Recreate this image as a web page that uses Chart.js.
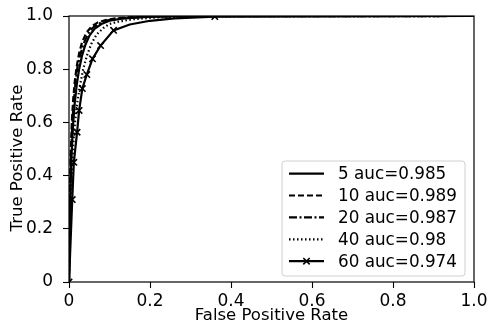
<html><head><meta charset="UTF-8"/>
<title>ROC</title>
<script src="https://cdn.jsdelivr.net/npm/chart.js"></script>
<style>
* { margin: 0; padding: 0; }
body { background: #ffffff; width: 492px; height: 322px; overflow: hidden; }
#wrap { position: relative; width: 492px; height: 322px; }
</style>
</head>
<body>
<div id="wrap"><canvas id="roc" width="492" height="322"></canvas></div>
<script>
// curve labels
const labels = ['5 auc=0.985', '10 auc=0.989', '20 auc=0.987', '40 auc=0.98', '60 auc=0.974'];

// false / true positive rates
const fpr5  = [0, 0.003, 0.006, 0.01, 0.014, 0.019, 0.025, 0.032, 0.04, 0.05, 0.063, 0.08, 0.1, 0.13, 0.18, 0.26, 1];
const tpr5  = [0, 0.3, 0.47, 0.59, 0.67, 0.74, 0.8, 0.85, 0.89, 0.925, 0.952, 0.97, 0.982, 0.99, 0.996, 0.999, 1];
const fpr10 = [0, 0.002, 0.004, 0.007, 0.01, 0.014, 0.019, 0.025, 0.032, 0.042, 0.055, 0.07, 0.09, 0.12, 0.17, 0.25, 1];
const tpr10 = [0, 0.3, 0.48, 0.6, 0.68, 0.75, 0.81, 0.86, 0.9, 0.935, 0.96, 0.975, 0.985, 0.992, 0.997, 1, 1];
const fpr20 = [0, 0.002, 0.005, 0.008, 0.012, 0.016, 0.021, 0.028, 0.036, 0.046, 0.058, 0.074, 0.095, 0.125, 0.175, 0.26, 1];
const tpr20 = [0, 0.3, 0.47, 0.6, 0.68, 0.75, 0.81, 0.855, 0.895, 0.93, 0.955, 0.972, 0.984, 0.991, 0.996, 0.999, 1];
const fpr40 = [0, 0.004, 0.008, 0.013, 0.019, 0.026, 0.035, 0.044, 0.055, 0.068, 0.085, 0.1, 0.125, 0.16, 0.22, 0.3, 1];
const tpr40 = [0, 0.3, 0.45, 0.57, 0.66, 0.73, 0.8, 0.85, 0.895, 0.93, 0.955, 0.97, 0.98, 0.988, 0.995, 0.999, 1];
const fpr60 = [0, 0.008, 0.012, 0.02, 0.025, 0.033, 0.044, 0.058, 0.078, 0.11, 0.15, 0.2, 0.26, 0.36, 1];
const tpr60 = [0, 0.31, 0.45, 0.563, 0.645, 0.727, 0.78, 0.839, 0.889, 0.946, 0.968, 0.982, 0.991, 0.998, 1];
const marks60 = [1, 1, 1, 1, 1, 1, 1, 1, 1, 1, 0, 0, 0, 1, 0];

const tickValues = [0, 0.2, 0.4, 0.6, 0.8, 1.0];
const yTitle = 'True Positive Rate';

const FONT = "'DejaVu Sans', sans-serif";

function pts(xs, ys) {
    return xs.map((x, i) => ({ x: x, y: ys[i] }));
}

function lineSet(i, xs, ys, dash) {
    return {
        label: labels[i],
        data: pts(xs, ys),
        borderColor: '#000',
        backgroundColor: '#000',
        borderWidth: 2.2,
        borderDash: dash,
        pointRadius: 0,
        showLine: true,
        tension: 0
    };
}

const sets = [
    lineSet(0, fpr5, tpr5, []),
    lineSet(1, fpr10, tpr10, [6, 3]),
    lineSet(2, fpr20, tpr20, [8, 2.5, 2, 2.5]),
    lineSet(3, fpr40, tpr40, [1.5, 2.5]),
    lineSet(4, fpr60, tpr60, [])
];
sets[4].pointStyle = 'crossRot';
sets[4].pointRadius = marks60.map(m => m ? 4.5 : 0);
sets[4].pointBorderWidth = 1.6;
sets[4].pointBorderColor = '#000';

// frame around plot area (top/right too, like matplotlib) + y title
const framePlugin = {
    id: 'frame',
    afterDatasetsDraw(chart) {
        const a = chart.chartArea, ctx = chart.ctx;
        ctx.save();
        ctx.strokeStyle = '#000';
        ctx.lineWidth = 1.2;
        ctx.strokeRect(a.left, a.top, a.right - a.left, a.bottom - a.top);
        // y axis title sits a bit below the middle in the original
        ctx.translate(18, (a.top + a.bottom) / 2 + 9);
        ctx.rotate(-Math.PI / 2);
        ctx.font = '16.5px ' + FONT;
        ctx.fillStyle = '#000';
        ctx.textAlign = 'center';
        ctx.textBaseline = 'middle';
        ctx.fillText(yTitle, 0, 0);
        ctx.restore();
    }
};

// matplotlib style legend box, lower right
const legendPlugin = {
    id: 'mplLegend',
    afterDraw(chart) {
        const a = chart.chartArea, ctx = chart.ctx;
        const w = 183, h = 115;
        const bx = a.right - 9 - w, by = a.bottom - 6 - h;
        ctx.save();
        ctx.beginPath();
        ctx.roundRect(bx, by, w, h, 3);
        ctx.fillStyle = 'rgba(255,255,255,0.85)';
        ctx.fill();
        ctx.strokeStyle = '#d0d0d0';
        ctx.lineWidth = 1;
        ctx.stroke();
        ctx.font = '16.8px ' + FONT;
        ctx.textBaseline = 'middle';
        chart.data.datasets.forEach((ds, i) => {
            const y = by + 12.6 + i * 21.9;
            const x0 = bx + 7;
            ctx.strokeStyle = '#000';
            ctx.lineWidth = ds.borderWidth;
            ctx.setLineDash(ds.borderDash || []);
            ctx.beginPath();
            ctx.moveTo(x0, y);
            ctx.lineTo(x0 + 35, y);
            ctx.stroke();
            ctx.setLineDash([]);
            if (ds.pointStyle === 'crossRot') {
                const r = 3.2;
                ctx.lineWidth = 1.6;
                ctx.beginPath();
                ctx.moveTo(x0 + 17.5 - r, y - r); ctx.lineTo(x0 + 17.5 + r, y + r);
                ctx.moveTo(x0 + 17.5 - r, y + r); ctx.lineTo(x0 + 17.5 + r, y - r);
                ctx.stroke();
            }
            ctx.fillStyle = '#000';
            ctx.fillText(ds.label, x0 + 49, y + 1);
        });
        ctx.restore();
    }
};

function fmt(v) {
    return v === 0 ? '0' : v.toFixed(1);
}

const axisCommon = {
    type: 'linear',
    min: 0,
    max: 1,
    afterBuildTicks: s => { s.ticks = tickValues.map(v => ({ value: v })); },
    border: { display: false },
    grid: { drawOnChartArea: false, drawTicks: true, tickLength: 6, color: '#000', tickWidth: 1.1 },
};

new Chart(document.getElementById('roc'), {
    type: 'scatter',
    data: { datasets: sets },
    options: {
        responsive: false,
        animation: false,
        events: [],
        layout: { padding: 0 },
        plugins: { legend: { display: false }, tooltip: { enabled: false } },
        scales: {
            x: Object.assign({}, axisCommon, {
                position: 'bottom',
                ticks: { callback: fmt, color: '#000', font: { family: FONT, size: 17 }, padding: 3, maxRotation: 0 },
                title: { display: true, text: 'False Positive Rate', color: '#000', font: { family: FONT, size: 16.5, lineHeight: 0.75 }, padding: { top: 0, bottom: 0 } },
                afterFit: s => { s.height = 40; s.paddingLeft = 0; s.paddingRight = 18; }
            }),
            y: Object.assign({}, axisCommon, {
                position: 'left',
                ticks: { callback: fmt, color: '#000', font: { family: FONT, size: 17 }, padding: 10 },
                title: { display: false },
                afterFit: s => { s.width = 69; s.paddingTop = 16; s.paddingBottom = 0; }
            })
        }
    },
    plugins: [framePlugin, legendPlugin]
});
</script>
</body></html>
